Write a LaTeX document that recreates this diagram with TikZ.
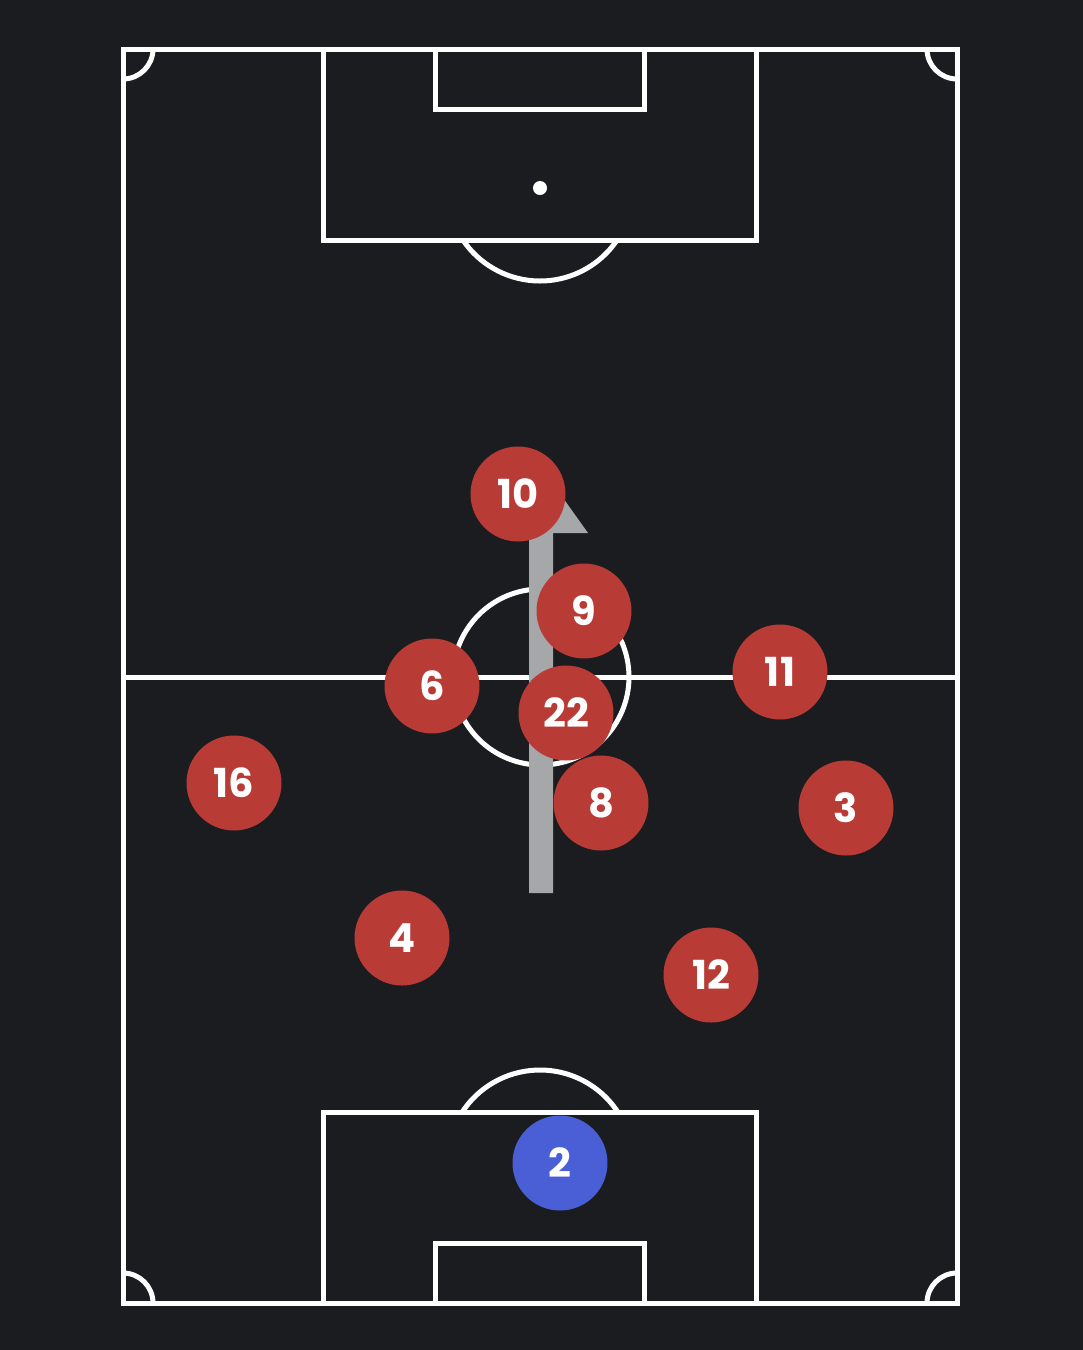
\documentclass[tikz,border=0pt]{standalone}
\usepackage{fontspec}
\setmainfont{Poppins}
\definecolor{bg}{HTML}{1A1C1F}
\definecolor{red}{HTML}{B93B36}
\definecolor{blue}{HTML}{4A5FD6}
\definecolor{arrowgray}{HTML}{A6A7A9}
\begin{document}
\begin{tikzpicture}[x=1pt,y=-1pt,
  line/.style={draw=white,line width=5pt},
  player/.style={circle,fill=red,minimum size=95pt,inner sep=0pt,text=white,font=\fontsize{40}{40}\selectfont\bfseries},
  keeper/.style={player,fill=blue}]
\fill[bg] (0,0) rectangle (1083,1350);
\useasboundingbox (0,0) rectangle (1083,1350);
% field
\draw[line] (123,49) rectangle (957,1303);
\draw[line] (123,677) -- (957,677);
\draw[line] (541,677) circle[radius=88];
% top
\draw[line] (323,49) rectangle (756,240);
\draw[line] (435,49) rectangle (644,109);
\fill[white] (540,188) circle[radius=7];
\draw[line] (540,188) ++(34:93) arc[start angle=34,end angle=146,radius=93];
% bottom
\draw[line] (323,1112) rectangle (756,1303);
\draw[line] (435,1243) rectangle (644,1303);
\draw[line] (540,1163) ++(-32.5:93) arc[start angle=-32.5,end angle=-147.5,radius=93];
% corners
\draw[line] (123,79) arc[start angle=90,end angle=0,radius=30];
\draw[line] (927,49) arc[start angle=180,end angle=90,radius=30];
\draw[line] (153,1303) arc[start angle=0,end angle=-90,radius=30];
\draw[line] (957,1273) arc[start angle=-90,end angle=-180,radius=30];
% arrow
\coordinate (tail) at (541,893);
\coordinate (tip) at (541,467);
\fill[arrowgray] (529,893) -- (529,533) -- (494,533) -- (tip) -- (588,533) -- (553,533) -- (553,893) -- cycle;
% players
\node[player] (p10) at (518,494) {10};
\node[player] (p9) at (584,611) {9};
\node[player] (p6) at (432,686) {6};
\node[player] (p22) at (566,713) {22};
\node[player] (p11) at (780,672) {11};
\node[player] (p16) at (234,783) {16};
\node[player] (p8) at (601,803) {8};
\node[player] (p3) at (846,808) {3};
\node[player] (p4) at (402,938) {4};
\node[player] (p12) at (711,975) {12};
\node[keeper] (p2) at (560,1163) {2};
\end{tikzpicture}
\end{document}
